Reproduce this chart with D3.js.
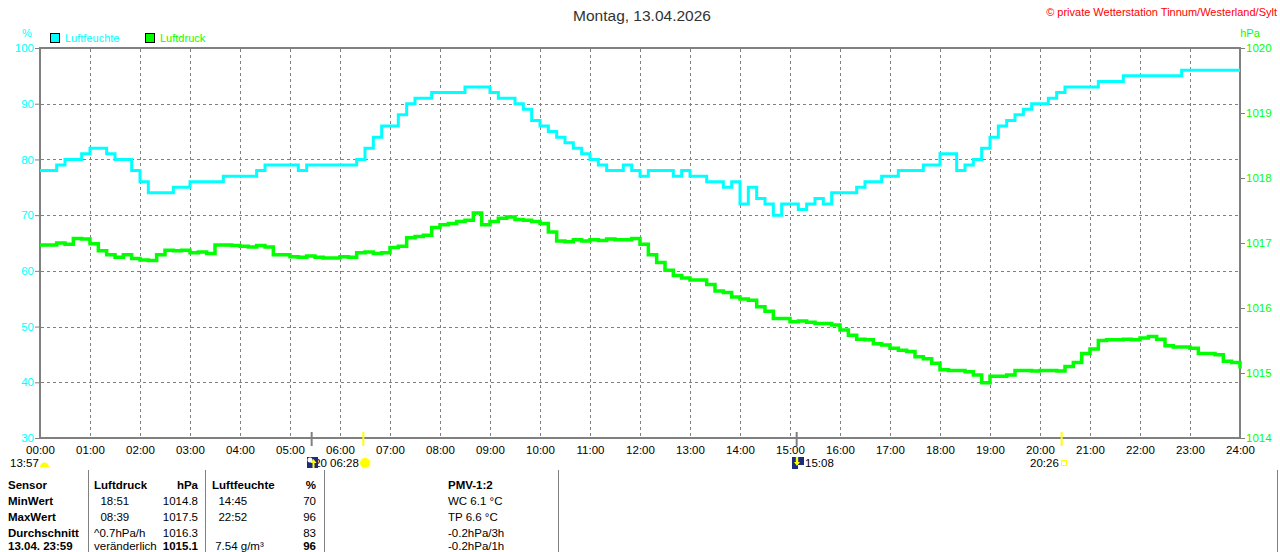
<!DOCTYPE html>
<html>
<head>
<meta charset="utf-8">
<script src="https://cdn.jsdelivr.net/npm/d3@7"></script>
<style>
  body { margin: 0; background: #fff; }
  svg { display: block; font-family: "Liberation Sans", Arial, sans-serif; }
</style>
</head>
<body>
<svg width="1280" height="552"></svg>
<script>
var svg = d3.select("svg");
var width = +svg.attr("width");
var height = +svg.attr("height");

// humidity (%) every 10 minutes, 00:00 .. 24:00
var humidity = [
  78, 78, 79, 80, 80, 81, 82, 82, 81, 80, 80, 78,
  76, 74, 74, 74, 75, 75, 76, 76, 76, 76, 77, 77,
  77, 77, 78, 79, 79, 79, 79, 78, 79, 79, 79, 79,
  79, 79, 80, 82, 84, 86, 86, 88, 90, 91, 91, 92,
  92, 92, 92, 93, 93, 93, 92, 91, 91, 90, 89, 87,
  86, 85, 84, 83, 82, 81, 80, 79, 78, 78, 79, 78,
  77, 78, 78, 78, 77, 78, 77, 77, 76, 76, 75, 76,
  72, 75, 73, 72, 70, 72, 72, 71, 72, 73, 72, 74,
  74, 74, 75, 76, 76, 77, 77, 78, 78, 78, 79, 79,
  81, 81, 78, 79, 80, 82, 84, 86, 87, 88, 89, 90,
  90, 91, 92, 93, 93, 93, 93, 94, 94, 94, 95, 95,
  95, 95, 95, 95, 95, 96, 96, 96, 96, 96, 96, 96,
  96
];

// pressure (hPa) every 10 minutes, 00:00 .. 24:00
var pressure = [
  1016.97, 1016.97, 1017.00, 1016.98, 1017.07, 1017.06, 1016.99, 1016.88, 1016.82, 1016.78, 1016.82, 1016.76,
  1016.74, 1016.73, 1016.82, 1016.89, 1016.88, 1016.89, 1016.85, 1016.86, 1016.84, 1016.97, 1016.97, 1016.96,
  1016.95, 1016.94, 1016.96, 1016.94, 1016.82, 1016.82, 1016.79, 1016.78, 1016.80, 1016.78, 1016.77, 1016.77,
  1016.79, 1016.78, 1016.85, 1016.86, 1016.84, 1016.85, 1016.93, 1016.95, 1017.08, 1017.10, 1017.12, 1017.24,
  1017.28, 1017.30, 1017.33, 1017.35, 1017.46, 1017.28, 1017.33, 1017.38, 1017.40, 1017.36, 1017.35, 1017.33,
  1017.30, 1017.17, 1017.03, 1017.02, 1017.05, 1017.03, 1017.05, 1017.04, 1017.06, 1017.05, 1017.05, 1017.07,
  1016.98, 1016.82, 1016.70, 1016.58, 1016.50, 1016.46, 1016.43, 1016.43, 1016.36, 1016.26, 1016.24, 1016.17,
  1016.14, 1016.12, 1016.02, 1015.95, 1015.84, 1015.84, 1015.79, 1015.80, 1015.78, 1015.76, 1015.76, 1015.74,
  1015.66, 1015.58, 1015.52, 1015.51, 1015.45, 1015.43, 1015.38, 1015.35, 1015.33, 1015.25, 1015.22, 1015.15,
  1015.05, 1015.04, 1015.04, 1015.02, 1014.97, 1014.85, 1014.95, 1014.95, 1014.97, 1015.04, 1015.04, 1015.03,
  1015.04, 1015.04, 1015.03, 1015.10, 1015.16, 1015.30, 1015.37, 1015.50, 1015.51, 1015.51, 1015.52, 1015.51,
  1015.54, 1015.56, 1015.52, 1015.42, 1015.40, 1015.40, 1015.38, 1015.30, 1015.30, 1015.28, 1015.18, 1015.16,
  1015.07
];

var stepMinutes = 10;
var humTicks = [30, 40, 50, 60, 70, 80, 90, 100];
var presTicks = [1014, 1015, 1016, 1017, 1018, 1019, 1020];
var hourTicks = d3.range(0, 25);

// sun / moon events below the time axis (minutes of day)
var moonRise = 326, sunRise = 388, moonSet = 908, sunSet = 1226;

// summary table
var tableHead = ["Sensor", "Luftdruck", "hPa", "Luftfeuchte", "%", "PMV-1:2"];
var tableRows = [
  ["MinWert", "  18:51", "1014.8", "  14:45", "70", "WC 6.1 °C"],
  ["MaxWert", "  08:39", "1017.5", "  22:52", "96", "TP 6.6 °C"],
  ["Durchschnitt", "^0.7hPa/h", "1016.3", "", "83", "-0.2hPa/3h"],
  ["13.04. 23:59", "veränderlich", "1015.1", " 7.54 g/m³", "96", "-0.2hPa/1h"]
];

var cyan = "#00ffff", green = "#00ff00", grey = "#808080";

var x = d3.scaleLinear().domain([0, 1440]).range([40, 1240]);
var yH = d3.scaleLinear().domain([30, 100]).range([438, 48]);
var yP = d3.scaleLinear().domain([1014, 1020]).range([438, 48]);

// title texts
svg.append("text").attr("x", 642).attr("y", 21).attr("text-anchor", "middle")
  .attr("font-size", 15.5).attr("fill", "#333").text("Montag, 13.04.2026");
svg.append("text").attr("x", 1277).attr("y", 16).attr("text-anchor", "end")
  .attr("font-size", 11).attr("fill", "#ff0000").text("© private Wetterstation Tinnum/Westerland/Sylt");
svg.append("text").attr("x", 27).attr("y", 37).attr("text-anchor", "middle")
  .attr("font-size", 11).attr("fill", cyan).text("%");
svg.append("text").attr("x", 1250).attr("y", 37).attr("text-anchor", "middle")
  .attr("font-size", 11).attr("fill", green).text("hPa");

// legend
var legend = [{label: "Luftfeuchte", color: cyan, x: 50}, {label: "Luftdruck", color: green, x: 145}];
legend.forEach(function(l) {
  svg.append("rect").attr("x", l.x + 0.5).attr("y", 33.5).attr("width", 9).attr("height", 9)
    .attr("fill", l.color).attr("stroke", "#000");
  svg.append("text").attr("x", l.x + 15).attr("y", 42).attr("font-size", 11)
    .attr("fill", l.color).text(l.label);
});

// grid
var grid = svg.append("g").attr("stroke", grey).attr("stroke-width", 1).attr("stroke-dasharray", "3,3");
grid.selectAll("line.h").data(humTicks.slice(1, -1)).enter().append("line")
  .attr("x1", 41).attr("x2", 1239)
  .attr("y1", function(d) { return Math.round(yH(d)) + 0.5; })
  .attr("y2", function(d) { return Math.round(yH(d)) + 0.5; });
grid.selectAll("line.v").data(hourTicks.slice(1, -1)).enter().append("line")
  .attr("y1", 49).attr("y2", 437)
  .attr("x1", function(d) { return x(d * 60) + 0.5; })
  .attr("x2", function(d) { return x(d * 60) + 0.5; });

// axes
var leftAxis = svg.append("g").attr("transform", "translate(40,0)")
  .call(d3.axisLeft(yH).tickValues(humTicks).tickSize(5).tickFormat(d3.format("d")));
var rightAxis = svg.append("g").attr("transform", "translate(1240,0)")
  .call(d3.axisRight(yP).tickValues(presTicks).tickSize(5).tickFormat(d3.format("d")));
var bottomAxis = svg.append("g").attr("transform", "translate(0,438)")
  .call(d3.axisBottom(x).tickValues(hourTicks.map(function(h) { return h * 60; }))
    .tickSize(0).tickPadding(8)
    .tickFormat(function(m) { return d3.format("02d")(m / 60) + ":00"; }));

[leftAxis, rightAxis, bottomAxis].forEach(function(a) {
  a.select(".domain").remove();
  a.selectAll("text").attr("font-family", "Liberation Sans, Arial, sans-serif").attr("font-size", 11.5);
  a.selectAll("line").attr("stroke", grey);
});
leftAxis.selectAll("text").attr("fill", cyan).attr("x", -6);
rightAxis.selectAll("text").attr("fill", green).attr("x", 6);
bottomAxis.selectAll("text").attr("fill", "#000");

// frame
svg.append("rect").attr("x", 40).attr("y", 48).attr("width", 1200).attr("height", 390)
  .attr("fill", "none").attr("stroke", grey).attr("stroke-width", 2);

// event ticks on the time axis
var evTicks = [
  {t: moonRise, c: grey}, {t: sunRise, c: "#ffff00"},
  {t: moonSet, c: grey}, {t: sunSet, c: "#ffff00"}
];
svg.selectAll("line.ev").data(evTicks).enter().append("line")
  .attr("x1", function(d) { return x(d.t); }).attr("x2", function(d) { return x(d.t); })
  .attr("y1", 432).attr("y2", 446).attr("stroke", function(d) { return d.c; }).attr("stroke-width", 2);

// data lines
var humLine = d3.line()
  .x(function(d, i) { return x(i * stepMinutes); })
  .y(function(d) { return yH(d); })
  .curve(d3.curveStepAfter);
var presLine = d3.line()
  .x(function(d, i) { return x(i * stepMinutes); })
  .y(function(d) { return yP(d); })
  .curve(d3.curveStepAfter);

svg.append("path").datum(pressure).attr("d", presLine)
  .attr("fill", "none").attr("stroke", green).attr("stroke-width", 3.5);
svg.append("path").datum(humidity).attr("d", humLine)
  .attr("fill", "none").attr("stroke", cyan).attr("stroke-width", 3);

// sun / moon labels
var lab = svg.append("g").attr("font-size", 11.5).attr("fill", "#000");
lab.append("text").attr("x", 10).attr("y", 467).text("13:57");
svg.append("path").attr("d", "M40,467 A4.5,4.5 0 0 1 49,467 Z").attr("fill", "#ffff00");

// moonrise label sits under its icon, only its last digit shows
svg.append("clipPath").attr("id", "mrclip").append("rect")
  .attr("x", 318).attr("y", 455).attr("width", 12).attr("height", 16);
lab.append("text").attr("x", 327).attr("y", 467).attr("text-anchor", "end")
  .attr("clip-path", "url(#mrclip)").text("05:20");
lab.append("text").attr("x", 330).attr("y", 467).text("06:28");
var mr = svg.append("g").attr("transform", "translate(307,457)");
mr.append("rect").attr("width", 11).attr("height", 11).attr("fill", "#1c2a80");
mr.append("circle").attr("cx", 3).attr("cy", 3).attr("r", 2.5).attr("fill", "#fff");
mr.append("path").attr("d", "M6.5,2 L9.5,6 L7.5,6 L7.5,11 L5.5,11 L5.5,6 L3.5,6 Z").attr("fill", "#ffff00");

var sun = svg.append("g").attr("transform", "translate(365,463)");
sun.append("circle").attr("r", 5).attr("fill", "#ffff00");
sun.append("circle").attr("r", 6).attr("fill", "none").attr("stroke", "#ffff88").attr("stroke-width", 1).attr("stroke-dasharray", "1.5,1.5");

var ms = svg.append("g").attr("transform", "translate(792,457)");
ms.append("rect").attr("width", 12).attr("height", 12).attr("fill", "#1c2a80");
ms.append("rect").attr("x", 6).attr("y", 8).attr("width", 6).attr("height", 4).attr("fill", "#fff");
ms.append("path").attr("d", "M5,9 L8,5 L6.2,5 L6.2,0 L3.8,0 L3.8,5 L2,5 Z").attr("fill", "#ffff00");
lab.append("text").attr("x", 805).attr("y", 467).text("15:08");

lab.append("text").attr("x", 1030).attr("y", 467).text("20:26");
svg.append("rect").attr("x", 1061.5).attr("y", 460.5).attr("width", 5).attr("height", 5)
  .attr("fill", "none").attr("stroke", "#ffff00");

// table
var tbl = svg.append("g").attr("font-size", 11.5).attr("fill", "#000");
[88.5, 205.5, 324.5, 558.5].forEach(function(lx) {
  tbl.append("line").attr("x1", lx).attr("x2", lx).attr("y1", 470).attr("y2", 552)
    .attr("stroke", grey).attr("stroke-width", 1);
});
tbl.append("line").attr("x1", 1277.5).attr("x2", 1277.5).attr("y1", 470).attr("y2", 552)
  .attr("stroke", grey).attr("stroke-width", 1);

var colX = [8, 94, 198, 212, 316, 448];
var colAnchor = ["start", "start", "end", "start", "end", "start"];
var rowY = [489, 505, 521, 537, 550];

tableHead.forEach(function(h, j) {
  tbl.append("text").attr("x", colX[j]).attr("y", rowY[0]).attr("text-anchor", colAnchor[j])
    .attr("font-weight", "bold").text(h);
});
tableRows.forEach(function(r, i) {
  var last = i === tableRows.length - 1;
  r.forEach(function(v, j) {
    var bold = j === 0 || (last && (j === 2 || j === 4));
    tbl.append("text").attr("x", colX[j]).attr("y", rowY[i + 1]).attr("text-anchor", colAnchor[j])
      .attr("font-weight", bold ? "bold" : "normal").attr("xml:space", "preserve")
      .style("white-space", "pre").text(v);
  });
});
</script>
</body>
</html>
